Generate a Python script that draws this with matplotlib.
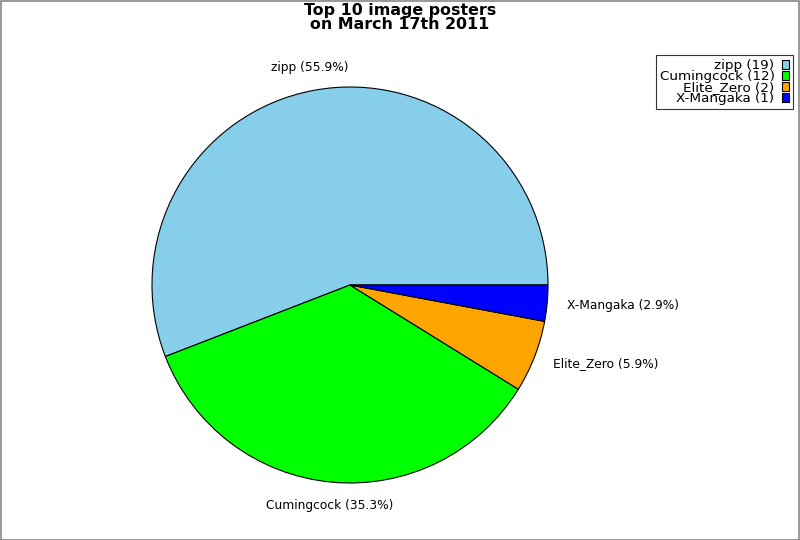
import matplotlib
matplotlib.use("Agg")
import matplotlib.pyplot as plt
from matplotlib.patches import Rectangle, Patch
import numpy as np

names = ["zipp", "Cumingcock", "Elite_Zero", "X-Mangaka"]
counts = [19, 12, 2, 1]
colors = ["#87CEEB", "#00FF00", "#FFA500", "#0000FF"]
title = "Top 10 image posters\non March 17th 2011"

W, H = 800, 540
fig = plt.figure(figsize=(W / 100, H / 100), dpi=100)
fig.patch.set_facecolor("white")
fig.add_artist(Rectangle((0.5 / W, 0.5 / H), 1 - 1.5 / W, 1 - 1.5 / H, transform=fig.transFigure,
                         fill=False, edgecolor="#888888", linewidth=1.2))

cx, cy, r = 350, 285, 198
ax = fig.add_axes([(cx - r) / W, (H - cy - r) / H, 2 * r / W, 2 * r / H])
wedges, _ = ax.pie(counts, colors=colors, startangle=0, counterclock=True,
                   wedgeprops=dict(edgecolor="black", linewidth=0.8))
ax.set_xlim(-1, 1)
ax.set_ylim(-1, 1)
ax.set_aspect("equal")
ax.axis("off")

total = sum(counts)
for w, n, c in zip(wedges, names, counts):
    ang = np.deg2rad((w.theta1 + w.theta2) / 2)
    x, y = np.cos(ang), np.sin(ang)
    if abs(x) < 0.4:
        ha = "center"
        rr = 1.12
    else:
        ha = "left" if x > 0 else "right"
        rr = 1.1
    ax.text(rr * x, rr * y, f"{n} ({100 * c / total:.1f}%)", ha=ha, va="center",
            fontsize=8.8, clip_on=False)

fig.text(400 / W, 1 - 3.5 / H, title, ha="center", va="top", fontsize=11.4,
         fontweight="bold", linespacing=0.9)

handles = [Patch(facecolor=col, edgecolor="black", linewidth=0.8) for col in colors]
labels = [f"{n} ({c})" for n, c in zip(names, counts)]
leg = fig.legend(handles, labels, loc="upper right", bbox_to_anchor=(793 / W, 1 - 55 / H),
                 markerfirst=False, fontsize=9.7, frameon=True, fancybox=False,
                 borderaxespad=0, borderpad=0.3, labelspacing=-0.15, handlelength=0.52,
                 handleheight=0.6, handletextpad=0.55)
leg.get_frame().set_edgecolor("black")
leg.get_frame().set_linewidth(0.8)

fig.savefig("out.png", dpi=100)
